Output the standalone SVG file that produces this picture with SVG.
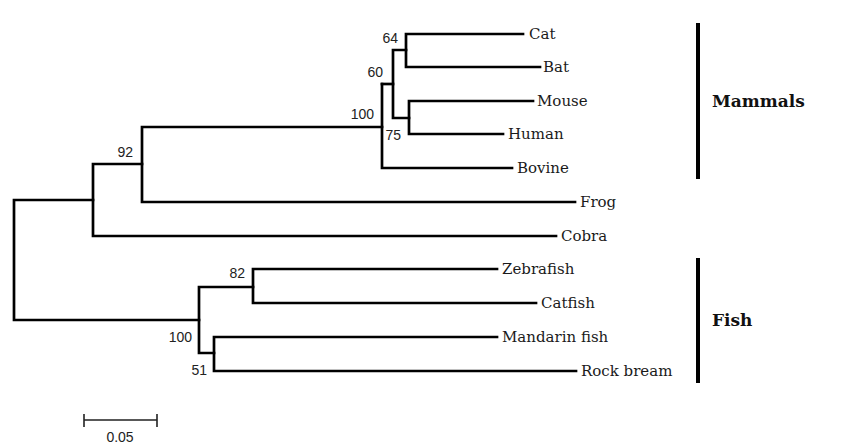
<svg xmlns="http://www.w3.org/2000/svg" width="842" height="445" viewBox="0 0 842 445">
  <style>
    .br { fill: none; stroke: #000; stroke-width: 2.7; stroke-linecap: square; stroke-linejoin: miter; }
    .leaf { font-family: "DejaVu Serif", "Liberation Serif", serif; font-size: 15px; fill: #1a1a1a; }
    .boot { font-family: "Liberation Sans", Arial, sans-serif; font-size: 14px; fill: #222; }
    .grp { font-family: "DejaVu Serif", "Liberation Serif", serif; font-size: 17px; font-weight: bold; fill: #111; }
    .bar { stroke: #000; stroke-width: 4; }
    .scale { fill: none; stroke: #222; stroke-width: 1.6; }
  </style>
  <rect width="842" height="445" fill="#fff"/>

  <!-- tree branches -->
  <g id="connectors">
    <!-- root -->
    <path class="br" d="M93,200 H14 V320 H199"/>
    <!-- tetrapod clade -->
    <path class="br" d="M142,164 H93 V236 H556"/>
    <path class="br" d="M382,127 H142 V202 H575"/>
    <!-- mammals -->
    <path class="br" d="M382,84 V168 H512"/>
    <path class="br" d="M393,84 H382"/>
    <path class="br" d="M406,50 H393 V118 H409"/>
    <path class="br" d="M523,34 H406 V67 H540"/>
    <path class="br" d="M533,101 H409 V134 H503"/>
    <!-- fish -->
    <path class="br" d="M253,287 H199 V353 H214"/>
    <path class="br" d="M497,269 H253 V303 H536"/>
    <path class="br" d="M497,337 H214 V371 H576"/>
  </g>

  <!-- leaves -->
  <g id="cat"><text class="leaf" x="529" y="39">Cat</text></g>
  <g id="bat"><text class="leaf" x="543" y="72">Bat</text></g>
  <g id="mouse"><text class="leaf" x="537" y="106">Mouse</text></g>
  <g id="human"><text class="leaf" x="508" y="139">Human</text></g>
  <g id="bovine"><text class="leaf" x="517" y="173">Bovine</text></g>
  <g id="frog"><text class="leaf" x="580" y="207">Frog</text></g>
  <g id="cobra"><text class="leaf" x="561" y="241">Cobra</text></g>
  <g id="zebrafish"><text class="leaf" x="502" y="274">Zebrafish</text></g>
  <g id="catfish"><text class="leaf" x="541" y="308">Catfish</text></g>
  <g id="mandarin-fish"><text class="leaf" x="502" y="342">Mandarin fish</text></g>
  <g id="rock-bream"><text class="leaf" x="581" y="376">Rock bream</text></g>

  <!-- bootstrap values -->
  <g id="bootstrap">
    <text class="boot" x="398" y="43" text-anchor="end">64</text>
    <text class="boot" x="383" y="77" text-anchor="end">60</text>
    <text class="boot" x="374" y="118.5" text-anchor="end">100</text>
    <text class="boot" x="385.5" y="139.5">75</text>
    <text class="boot" x="133" y="157" text-anchor="end">92</text>
    <text class="boot" x="245" y="278" text-anchor="end">82</text>
    <text class="boot" x="192" y="342" text-anchor="end">100</text>
    <text class="boot" x="207" y="374.5" text-anchor="end">51</text>
  </g>

  <!-- clade brackets -->
  <g id="mammals">
    <line class="bar" x1="698" y1="23" x2="698" y2="179"/>
    <text class="grp" x="712" y="107">Mammals</text>
  </g>
  <g id="fish">
    <line class="bar" x1="698" y1="258" x2="698" y2="383"/>
    <text class="grp" x="712" y="326">Fish</text>
  </g>

  <!-- scale bar -->
  <g id="scale-bar">
    <path class="scale" d="M84,420 H157 M84,414 V427 M157,414 V427"/>
    <text class="boot" x="120" y="441.5" text-anchor="middle" font-size="14.5">0.05</text>
  </g>
</svg>
